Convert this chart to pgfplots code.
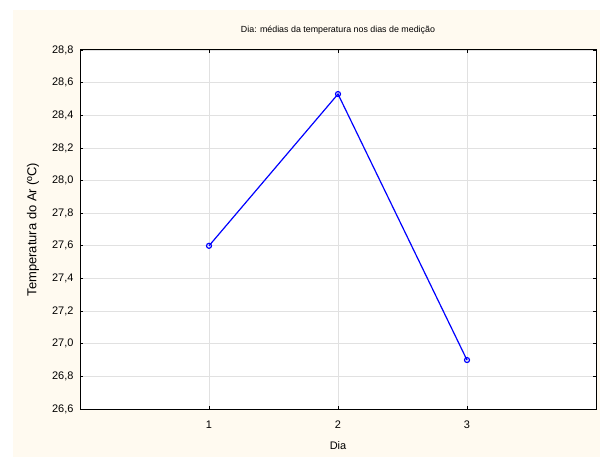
\documentclass[border=0pt]{standalone}
\usepackage{pgfplots}
\pgfplotsset{compat=1.18}
\usepackage{fontspec}
\setmainfont{Liberation Sans}
\definecolor{cream}{RGB}{255,250,240}
\definecolor{gridgray}{RGB}{225,225,225}
\begin{document}
\begin{tikzpicture}
\useasboundingbox (0bp,0bp) rectangle (600bp,457bp);
\fill[white] (0bp,0bp) rectangle (600bp,457bp);
\fill[cream] (13bp,0bp) rectangle (600bp,447bp);
\begin{axis}[
  at={(80bp,48bp)}, anchor=south west,
  scale only axis, width=516bp, height=359bp,
  xmin=0, xmax=4, ymin=26.6, ymax=28.8,
  xtick={1,2,3}, ytick={26.6,26.8,...,28.81},
  axis background/.style={fill=white},
  axis line style={black, line width=1bp},
  grid=major, major grid style={gridgray, line width=0.8bp},
  tick style={black, line width=0.8bp}, major tick length=3bp,
  tick align=inside,
  yticklabel style={/pgf/number format/use comma, /pgf/number format/fixed, /pgf/number format/fixed zerofill, /pgf/number format/precision=1, xshift=-3bp},
  /pgf/number format/assume math mode=true,
  ticklabel style={font=\fontsize{11}{13}\selectfont},
  title={Dia: médias da temperatura nos dias de medição},
  title style={font=\fontsize{8.9}{11}\selectfont, at={(axis description cs:0.5,1)}, anchor=center, yshift=14bp},
  xlabel={Dia},
  xlabel style={font=\fontsize{11}{13}\selectfont, at={(axis description cs:0.5,0)}, anchor=center, yshift=-37bp},
  ylabel={Temperatura do Ar (ºC)},
  ylabel style={font=\fontsize{13}{15}\selectfont, at={(axis description cs:0,0.5)}, anchor=center, yshift=47bp},
  xticklabel style={yshift=-8bp},
]
\addplot[blue, line width=1.2bp, mark=o, mark size=2.5bp, mark options={fill=white, line width=1.2bp}]
  coordinates {(1,27.60) (2,28.53) (3,26.90)};
\end{axis}
\end{tikzpicture}
\end{document}
